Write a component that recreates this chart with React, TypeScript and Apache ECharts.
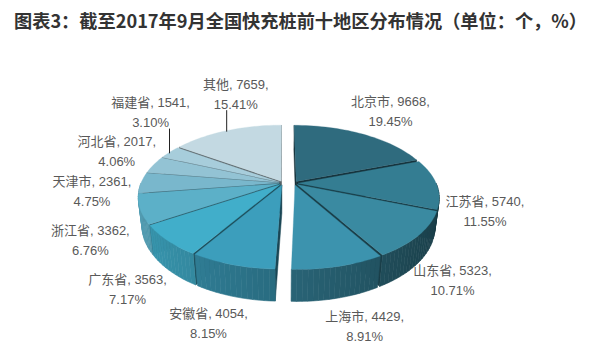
import React, { useEffect, useRef } from 'react';
import * as echarts from 'echarts';

const TITLE = '图表3：截至2017年9月全国快充桩前十地区分布情况（单位：个，%）';
const REGIONS = ['北京市', '江苏省', '山东省', '上海市', '安徽省', '广东省', '浙江省', '天津市', '河北省', '福建省', '其他'];
const COUNTS = [9668, 5740, 5323, 4429, 4054, 3563, 3362, 2361, 2017, 1541, 7659];

// styling / layout (not data)
const COLORS = ['#2f6b7e', '#347d92', '#3a8aa1', '#3c93ae', '#3c9ebc', '#41aeca', '#5cb0c8', '#79b7cc', '#93c3d4', '#a7cddb', '#c3d9e2'];
const EXPLODED = ['北京市', '江苏省', '山东省', '上海市'];
const LEADER = ['福建省', '其他'];
const LABEL_NUDGE: Record<string, [number, number]> = {
  '北京市': [-3, 6], '江苏省': [0, -2], '山东省': [9, -11], '上海市': [2, 0], '安徽省': [1, 3],
  '广东省': [-16, 4], '浙江省': [-14, 2], '天津市': [-1, -2], '河北省': [16, -8], '福建省': [32, -22], '其他': [27, 6],
};

const CX = 283, CY = 183, R = 138, H = 33;
const ELEV = (29.25 * Math.PI) / 180, DIST = 633;
const GAP = 4, GROUP_GAP = 11;
const SE = Math.sin(ELEV), CE = Math.cos(ELEV);
const DEG = Math.PI / 180;

function shade(hex: string, f: number) {
  const n = parseInt(hex.slice(1), 16);
  const r = Math.min(255, Math.round(((n >> 16) & 255) * f));
  const g = Math.min(255, Math.round(((n >> 8) & 255) * f));
  const b = Math.min(255, Math.round((n & 255) * f));
  return `rgb(${r},${g},${b})`;
}

function project(X: number, D: number, hh: number): [number, number] {
  const depth = D * CE - hh * SE;
  const s = DIST / (DIST - depth);
  return [CX + X * s, CY + (D * SE + hh * CE) * s];
}

export default function App() {
  const ref = useRef<HTMLDivElement>(null);
  useEffect(() => {
    if (!ref.current) return;
    const chart = echarts.init(ref.current, undefined, { renderer: 'svg' });
    const total = COUNTS.reduce((a, b) => a + b, 0);
    const starts: number[] = [];
    let acc = 0;
    COUNTS.forEach((v) => { starts.push((acc / total) * 360); acc += v; });
    const ends = COUNTS.map((v, i) => starts[i] + (v / total) * 360);
    const mids = COUNTS.map((_, i) => (starts[i] + ends[i]) / 2);
    const exIdx = REGIONS.map((n, i) => (EXPLODED.includes(n) ? i : -1)).filter((i) => i >= 0);
    const gStart = Math.min(...exIdx.map((i) => starts[i]));
    const gEnd = Math.max(...exIdx.map((i) => ends[i]));
    const gMid = ((gStart + gEnd) / 2) * DEG;
    const offsets = COUNTS.map((_, i) => {
      const tm = mids[i] * DEG;
      let ox = GAP * Math.sin(tm), oy = -GAP * Math.cos(tm);
      if (EXPLODED.includes(REGIONS[i])) { ox += GROUP_GAP * Math.sin(gMid); oy += -GROUP_GAP * Math.cos(gMid); }
      return [ox, oy];
    });
    const depthKey = COUNTS.map((_, i) => offsets[i][1] - 0.6 * R * Math.cos(mids[i] * DEG));
    const order = COUNTS.map((_, i) => i).sort((a, b) => depthKey[a] - depthKey[b]);
    const rank: number[] = [];
    order.forEach((idx, r) => { rank[idx] = r; });
    const camD = DIST * CE;

    const renderItem = (params: any, api: any) => {
      const i = params.dataIndex;
      const v = api.value(0);
      const name = REGIONS[i];
      const col = COLORS[i];
      const [ox, oy] = offsets[i];
      const t0 = starts[i], t1 = ends[i];
      const rim = (tdeg: number, hh: number) => {
        const t = tdeg * DEG;
        return project(ox + R * Math.sin(t), oy - R * Math.cos(t), hh);
      };
      const children: any[] = [];
      const z = rank[i] * 10;
      // radial faces
      const faces: [number, number, number][] = [
        [t0, -Math.cos(t0 * DEG), -Math.sin(t0 * DEG)],
        [t1, Math.cos(t1 * DEG), Math.sin(t1 * DEG)],
      ];
      faces.forEach(([t, nx, nd]) => {
        const dot = (0 - ox) * nx + (camD - oy) * nd;
        if (dot <= 0) return;
        const pts = [project(ox, oy, 0), rim(t, 0), rim(t, H), project(ox, oy, H)];
        const fc = shade(col, 0.45);
        children.push({ type: 'polygon', z2: z + 1, shape: { points: pts }, style: { fill: fc, stroke: fc, lineWidth: 0.5 } });
      });
      // outer wall (front half)
      const wa = Math.max(t0, 90), wb = Math.min(t1, 270);
      if (wb > wa) {
        const steps = Math.max(2, Math.ceil((wb - wa) / 2));
        for (let k = 0; k < steps; k++) {
          const a = wa + ((wb - wa) * k) / steps;
          const b = wa + ((wb - wa) * (k + 1)) / steps;
          const tmid = ((a + b) / 2) * DEG;
          const f = Math.max(0.45, Math.min(0.95, 0.67 - 0.22 * Math.sin(tmid)));
          const c = shade(col, f);
          children.push({
            type: 'polygon', z2: z + 2,
            shape: { points: [rim(a, 0), rim(b, 0), rim(b, H), rim(a, H)] },
            style: { fill: c, stroke: c, lineWidth: 0.6 },
          });
        }
      }
      // top face
      const topPts: [number, number][] = [project(ox, oy, 0)];
      const n = Math.max(2, Math.ceil((t1 - t0) / 2));
      for (let k = 0; k <= n; k++) topPts.push(rim(t0 + ((t1 - t0) * k) / n, 0));
      children.push({ type: 'polygon', z2: z + 3, shape: { points: topPts }, style: { fill: col, stroke: col, lineWidth: 0.3 } });

      // label
      const tm = mids[i] * DEG;
      const s = Math.sin(tm), c = -Math.cos(tm);
      const gx = EXPLODED.includes(name) ? 12 * Math.sin(gMid) : 0;
      const nudge = LABEL_NUDGE[name] || [0, 0];
      const lx = CX + gx + 190 * s + 30 * c * (1 - Math.abs(s)) * Math.sign(s) + nudge[0];
      const ly = CY + 20 + 125 * c + 9 * s + nudge[1];
      const pct = ((v / total) * 100).toFixed(2);
      children.push({
        type: 'text', z2: 500,
        style: {
          text: `${name}, ${v},\n${pct}%`, x: lx, y: ly, align: 'center', verticalAlign: 'middle',
          fill: '#595959', fontSize: 13, lineHeight: 20,
          fontFamily: '"Liberation Sans", Arial, "Noto Sans CJK SC", sans-serif',
        },
      });
      if (LEADER.includes(name)) {
        const anchor = rim(mids[i], 0);
        const sx = Math.max(lx - 20, Math.min(lx + 20, anchor[0]));
        children.push({
          type: 'line', z2: 500,
          shape: { x1: sx, y1: ly + 16, x2: sx, y2: anchor[1] + 1 },
          style: { stroke: '#222', lineWidth: 1 },
        });
      }
      return { type: 'group', children };
    };

    chart.setOption({
      animation: false,
      backgroundColor: '#ffffff',
      title: {
        text: TITLE, left: 9, top: 6,
        textStyle: { fontSize: 18.2, fontWeight: 'bold', color: '#333333', fontFamily: '"Noto Sans CJK SC", sans-serif' },
      },
      series: [{
        type: 'custom', coordinateSystem: 'none', renderItem,
        data: COUNTS.map((v, i) => ({ name: REGIONS[i], value: [v] })),
      }],
    });
    return () => chart.dispose();
  }, []);
  return <div ref={ref} style={{ width: 603, height: 359, position: 'absolute', left: 0, top: 0 }} />;
}
